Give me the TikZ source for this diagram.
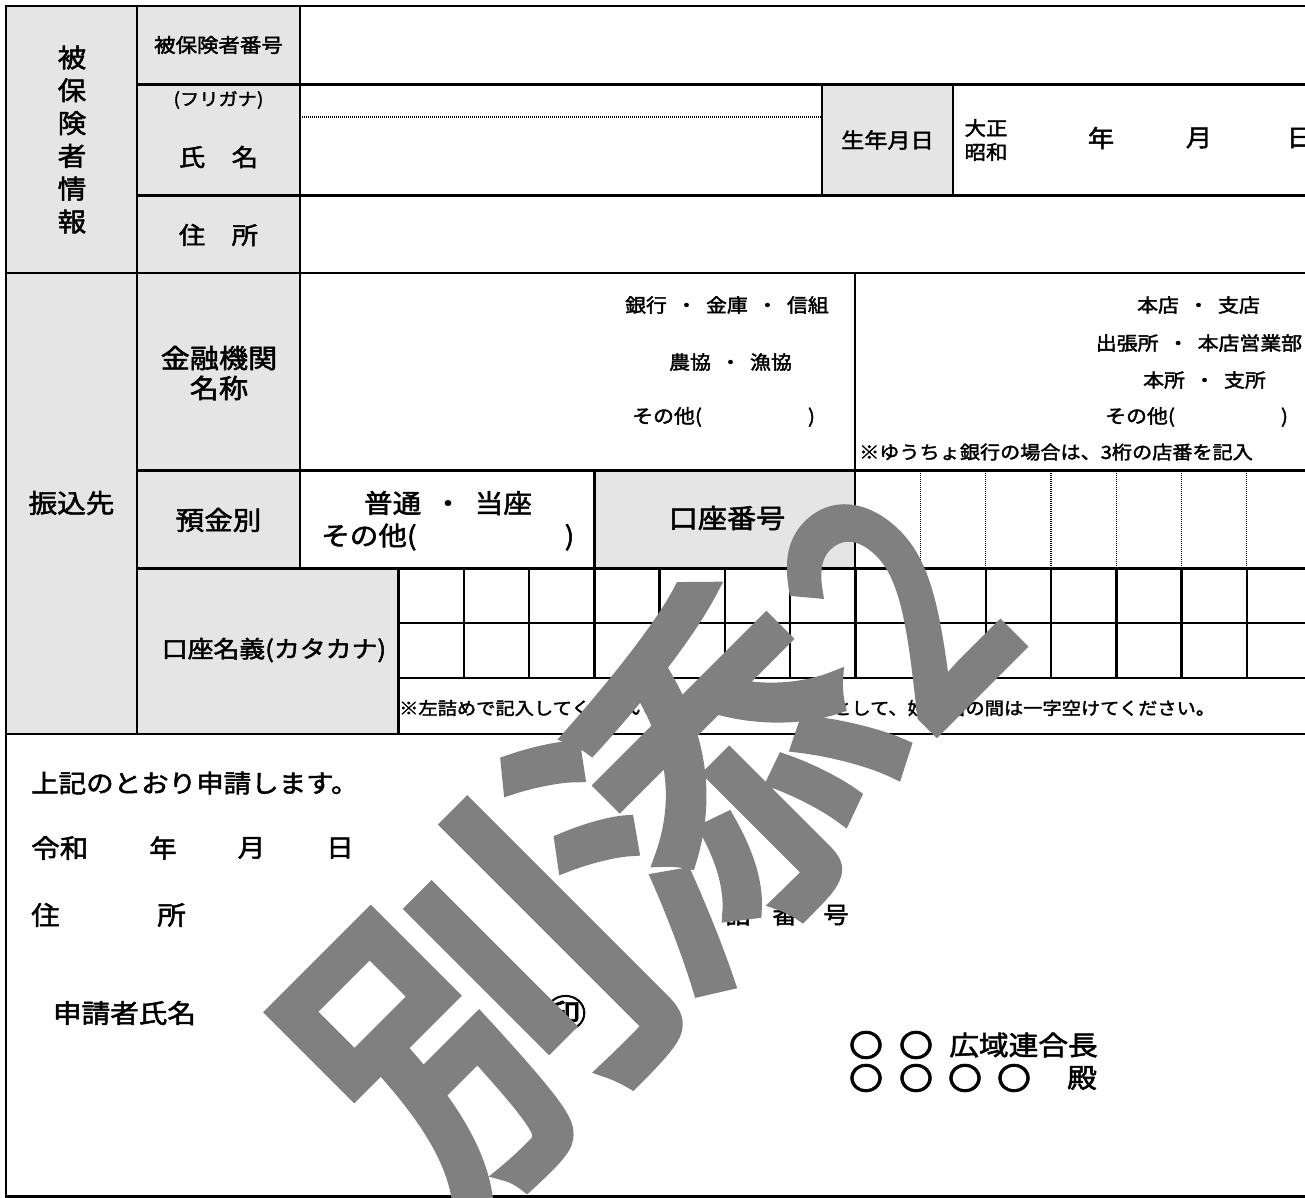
\documentclass[tikz,border=0pt]{standalone}
\usepackage{fontspec}
\setmainfont{Noto Sans CJK JP}[FakeStretch=1.1,FakeBold=2]
\newfontfamily\wmfont{Noto Sans CJK JP}[FakeBold=4.5]
\usepackage{tikz}
\usetikzlibrary{calc}
\definecolor{cellgray}{gray}{0.9}
\definecolor{markgray}{gray}{0.5}
\newcommand\ndot{\hspace{.48em}・\hspace{.48em}}

\begin{document}
\begin{tikzpicture}[x=1pt,y=-1pt,
		rule/.style={line width=2.5pt,line cap=rect},
		dots/.style={line width=1.2pt,dash pattern=on 1pt off 1pt},
		lbl/.style={inner sep=0pt,font=\fontsize{#1}{#1}\selectfont},
		lbl/.default=24,
		stamp/.style={inner sep=0pt,rotate=45,text=markgray,font=\wmfont\fontsize{#1}{#1}\selectfont},
		stamp/.default=345]
			\path[use as bounding box,fill=white] (0,0) rectangle (1305,1198);
			\clip (0,0) rectangle (1305,1198);
			% gray label cells
			\fill[cellgray] (6,6) rectangle (137,734);
			\fill[cellgray] (137,6) rectangle (300,568.5);
			\fill[cellgray] (137,568.5) rectangle (398.5,734);
			\fill[cellgray] (594.5,470.5) rectangle (855,568.5);
			\fill[cellgray] (822,84.5) rectangle (953,195.5);
			% insured person
			\node[lbl,align=center,font=\fontsize{26}{32.8}\selectfont] (info) at (72,139.5) {被\\保\\険\\者\\情\\報};
			\node[lbl=19.5] (num) at (218.5,45) {被保険者番号};
			\node[lbl=17.5] (kana) at (218.5,100) {(フリガナ)};
			\node[lbl=24] (name) at (218.5,157) {氏　名};
			\node[lbl=24] (addr) at (218.5,235) {住　所};
			\node[lbl=21] (birth) at (887.5,140) {生年月日};
			\node[lbl,align=left,font=\fontsize{19.5}{24}\selectfont] (era) at (986,140) {大正\\昭和};
			\foreach \c/\x [count=\i] in {年/1101,月/1199,日/1300}
				\node[lbl] (b-\i) at (\x,138) {\c};
			% bank account
			\node[lbl=26] (dest) at (71.5,503) {振込先};
			\node[lbl,align=center,font=\fontsize{26.5}{30}\selectfont] (bank) at (219,373) {金融機関\\名称};
			\node[lbl=19,anchor=east] (bk-1) at (829,305) {銀行\ndot 金庫\ndot 信組};
			\node[lbl=19] (bk-2) at (730.5,362) {農協\ndot 漁協};
			\node[lbl=19,anchor=west] (bk-3) at (632,417) {その他(\hspace{106pt})};
			\node[lbl=19] (br-1) at (1198.5,305) {本店\ndot 支店};
			\node[lbl=19] (br-2) at (1199,343) {出張所\ndot 本店営業部};
			\node[lbl=19] (br-3) at (1204.5,380) {本所\ndot 支所};
			\node[lbl=19,anchor=west] (br-4) at (1105,417) {その他(\hspace{106pt})};
			\node[lbl=18.3,anchor=west] (br-5) at (859,452) {※ゆうちょ銀行の場合は、3桁の店番を記入};
			\node[lbl=26] (kind) at (218.5,520) {預金別};
			\node[lbl=26] (kind-1) at (448,503) {普通\ndot 当座};
			\node[lbl=26,anchor=west] (kind-2) at (321,537) {その他(\hspace{148pt})};
			\node[lbl=26.5] (acno) at (727,518) {口座番号};
			\node[lbl=23.5] (holder) at (274,650) {口座名義(カタカナ)};
			\node[lbl=17.5,anchor=west] (note) at (399,708) {※左詰めで記入してください。濁点、半濁点は1字として、姓と名の間は一字空けてください。};
			% application
			\node[lbl=25,anchor=west] (apply) at (31,783) {上記のとおり申請します。};
			\node[lbl=26,anchor=west] (date) at (31,848) {令和};
			\foreach \c/\x [count=\i] in {年/163,月/251.5,日/340}
				\node[lbl=25] (d-\i) at (\x,848) {\c};
			\node[lbl=26] (ad-1) at (45.5,915) {住};
			\node[lbl=26] (ad-2) at (171.5,915) {所};
			\foreach \c/\x [count=\i] in {電/690,話/738,番/785,号/836}
				\node[lbl=23] (tel-\i) at (\x,915) {\c};
			\node[lbl=26] (appl) at (124.5,1013) {申請者氏名};
			\node[lbl=38] (seal) at (565.5,1013) {㊞};
			\foreach \x [count=\i] in {866,916}
				\node[lbl=31] (o-1-\i) at (\x,1045) {〇};
			\foreach \x [count=\i] in {866,916,965,1014}
				\node[lbl=31] (o-2-\i) at (\x,1078) {〇};
			\node[lbl=27] (chief) at (1023.5,1045) {広域連合長};
			\node[lbl=27] (dono) at (1082,1078) {殿};
			% frame
			\draw[rule] (1305,6) -- (6,6) -- (6,1196.5) -- (1305,1196.5);
			\foreach \y in {84.5,195.5,470.5,568.5}
				\draw[rule] (137,\y) -- (1305,\y);
			\foreach \y in {273,734}
				\draw[rule] (6,\y) -- (1305,\y);
			\foreach \y in {623,678}
				\draw[rule] (398.5,\y) -- (1305,\y);
			\draw[rule] (137,6) -- (137,734);
			\draw[rule] (300,6) -- (300,568.5);
			\draw[rule] (822,84.5) -- (822,195.5) (953,84.5) -- (953,195.5);
			\draw[rule] (855,273) -- (855,568.5) (594.5,470.5) -- (594.5,568.5);
			\draw[rule] (398.5,568.5) -- (398.5,734);
			\draw[dots] (300,117) -- (822,117);
			\foreach \k [evaluate={\x=398.5+65.25*\k;}] in {0,...,13}{
				\draw[rule] (\x,568.5) -- (\x,678);
				\ifnum\k>7
				\draw[dots] (\x,470.5) -- (\x,568.5);
				\fi }
			% watermark
			\foreach \c/\x/\y [count=\i] in {別/476.6/1017,添/710/783.5}
				\node[stamp] (m-\i) at (\x,\y) {\c};
			\node[stamp=320,xscale=.8] (m-3) at (896,604.6) {2};
\end{tikzpicture}
\end{document}
